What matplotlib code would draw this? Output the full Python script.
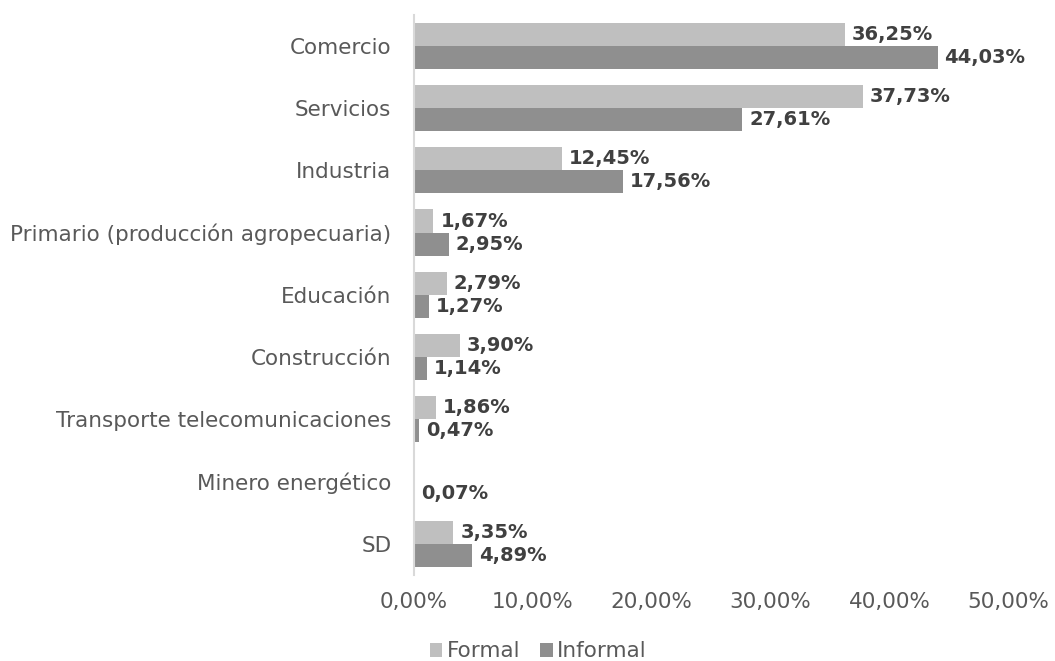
import matplotlib.pyplot as plt
import numpy as np

# sector shares of employment, formal vs informal (%)
sectores = ["Comercio", "Servicios", "Industria", "Primario (producción agropecuaria)",
            "Educación", "Construcción", "Transporte telecomunicaciones",
            "Minero energético", "SD"]
formal = [36.25, 37.73, 12.45, 1.67, 2.79, 3.90, 1.86, 0.0, 3.35]
informal = [44.03, 27.61, 17.56, 2.95, 1.27, 1.14, 0.47, 0.07, 4.89]
ticks = [0, 10, 20, 30, 40, 50]

plt.rcParams['font.family'] = ['DejaVu Sans']

fig = plt.figure(figsize=(10.55, 6.61), dpi=100)
ax = fig.add_axes([0.392, 0.130, 0.564, 0.848])

y = np.arange(len(sectores))
h = 0.37
b1 = ax.barh(y - h / 2, formal, height=h, color="#BFBFBF", label="Formal")
b2 = ax.barh(y + h / 2, informal, height=h, color="#8F8F8F", label="Informal")

def fmt(v):
    return f"{v:.2f}%".replace(".", ",")

for bars, vals in ((b1, formal), (b2, informal)):
    for bar, v in zip(bars, vals):
        if v == 0:
            continue
        ax.annotate(fmt(v), (bar.get_width(), bar.get_y() + bar.get_height() / 2),
                    xytext=(5, 0), textcoords="offset points", va="center", ha="left",
                    fontsize=14, fontweight="bold", color="#404040")

ax.set_xlim(0, 50)
ax.set_ylim(len(sectores) - 0.5, -0.5)
ax.set_xticks(ticks)
ax.set_xticklabels([f"{t:.2f}%".replace(".", ",") for t in ticks])
ax.set_yticks(y)
ax.set_yticklabels(sectores)
ax.tick_params(axis="both", length=0, labelsize=15.5, colors="#595959")
ax.tick_params(axis="x", pad=12)
ax.tick_params(axis="y", pad=16)

for s in ("top", "right", "bottom"):
    ax.spines[s].set_visible(False)
ax.spines["left"].set_color("#D9D9D9")
ax.spines["left"].set_linewidth(1.5)

fig.legend(loc="lower center", bbox_to_anchor=(0.51, -0.03), ncol=2, frameon=False,
           fontsize=15.5, handlelength=0.6, handleheight=0.6, handletextpad=0.2,
           columnspacing=0.9, labelcolor="#595959")

fig.savefig("out.png", dpi=100)
